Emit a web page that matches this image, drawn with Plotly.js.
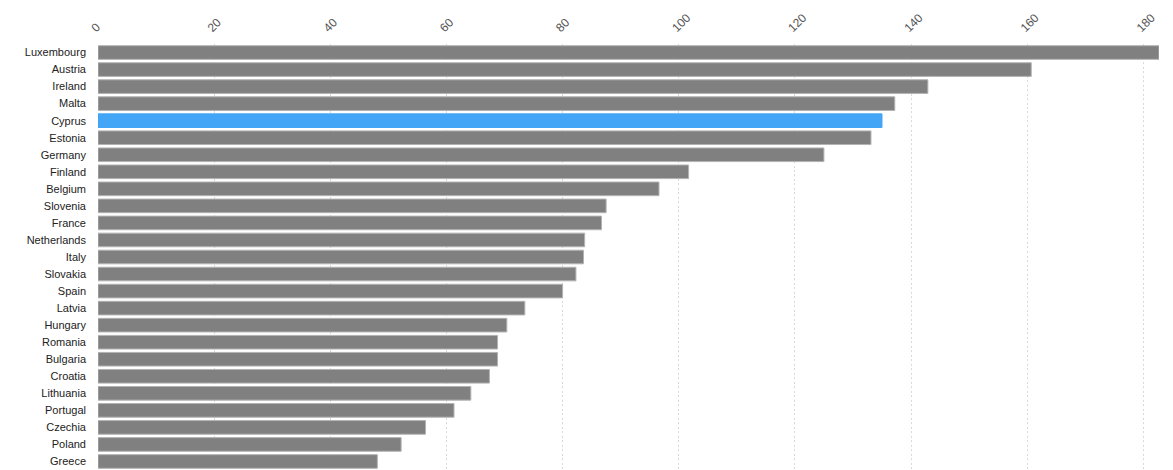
<!DOCTYPE html>
<html>
<head>
<meta charset="utf-8">
<script src="https://cdn.plot.ly/plotly-3.0.1.min.js"></script>
<style>html,body{margin:0;padding:0;background:#fff;}#chart{width:1173px;height:470px;}</style>
</head>
<body>
<div id="chart"></div>
<script>
var countries = ["Luxembourg","Austria","Ireland","Malta","Cyprus","Estonia","Germany","Finland","Belgium","Slovenia","France","Netherlands","Italy","Slovakia","Spain","Latvia","Hungary","Romania","Bulgaria","Croatia","Lithuania","Portugal","Czechia","Poland","Greece"];
var values = [182.7,160.7,142.9,137.2,135.0,133.1,125.0,101.7,96.6,87.5,86.7,83.8,83.6,82.3,80.0,73.5,70.4,68.8,68.8,67.4,64.2,61.3,56.4,52.2,48.1];
var highlight = "Cyprus";
var tickVals = [0,20,40,60,80,100,120,140,160,180];

var colors = countries.map(function(c){ return c === highlight ? "#42A5F5" : "#808080"; });
var lineColors = countries.map(function(c){ return c === highlight ? "#42A5F5" : "#b3b3b3"; });

var trace = {
  type: "bar",
  orientation: "h",
  y: countries,
  x: values,
  marker: {color: colors, line: {color: lineColors, width: 1}},
  hoverinfo: "x+y"
};

var layout = {
  width: 1173,
  height: 470,
  margin: {l: 97.5, r: 14, t: 44, b: 0, pad: 0},
  paper_bgcolor: "#fff",
  plot_bgcolor: "#fff",
  showlegend: false,
  bargap: 0.2,
  font: {family: "Liberation Sans, Arial, sans-serif", size: 11, color: "#333"},
  xaxis: {
    side: "top",
    range: [0, 182.7],
    tickvals: tickVals,
    ticktext: tickVals.map(String),
    tickangle: -45,
    tickfont: {size: 12, color: "#555"},
    ticklabelshift: -6,
    ticklabelstandoff: 6,
    showgrid: true,
    gridcolor: "#d9d9d9",
    griddash: "2px,2.5px",
    gridwidth: 1,
    zeroline: false,
    showline: false,
    ticks: "",
    fixedrange: true
  },
  yaxis: {
    categoryorder: "array",
    categoryarray: countries,
    autorange: "reversed",
    tickfont: {size: 11, color: "#222"},
    ticks: "",
    ticklabelstandoff: 11,
    showgrid: false,
    zeroline: false,
    showline: false,
    fixedrange: true
  }
};

Plotly.newPlot("chart", [trace], layout, {displayModeBar: false, staticPlot: true});
</script>
</body>
</html>
